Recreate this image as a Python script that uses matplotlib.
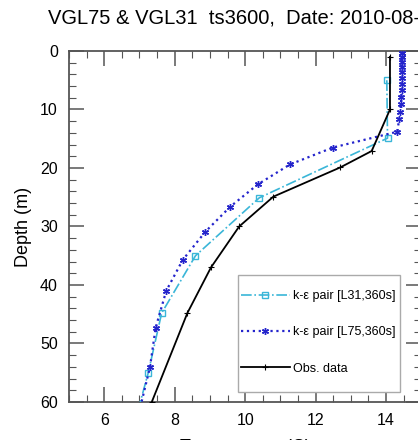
import matplotlib
matplotlib.use("Agg")
import matplotlib.pyplot as plt
from matplotlib.patches import Rectangle
from matplotlib.ticker import MultipleLocator

# observed profile
obs_temp = [14.11, 14.11, 13.59, 12.70, 10.80, 9.83, 9.03, 8.36, 7.35]
obs_depth = [1.0, 10.0, 17.1, 19.9, 24.9, 30.0, 37.0, 44.8, 60.0]

# k-eps pair, L31 levels
l31_temp = [14.02, 14.04, 10.40, 8.59, 7.63, 7.25, 6.80]
l31_depth = [5.0, 14.9, 25.1, 35.0, 44.8, 55.0, 65.0]

# k-eps pair, L75 levels
l75_temp = [14.44, 14.44, 14.44, 14.44, 14.44, 14.44, 14.44, 14.44, 14.43,
            14.42, 14.40, 14.37, 14.32, 12.49, 11.27, 10.36, 9.58, 8.87,
            8.23, 7.76, 7.46, 7.30, 7.00]
l75_depth = [0.3, 1.0, 1.8, 2.7, 3.6, 4.6, 5.6, 6.7, 7.9, 9.1, 10.4, 11.6,
             13.8, 16.5, 19.4, 22.8, 26.6, 30.9, 35.7, 41.0, 47.3, 54.0, 61.5]

title = "VGL75 & VGL31  ts3600,  Date: 2010-08-15"

plt.rcParams["font.family"] = ["Liberation Sans", "DejaVu Sans"]

fig = plt.figure(figsize=(4.18, 4.40), dpi=100)
ax = fig.add_axes([0.165, 0.0864, 0.843, 0.7977])

cyan = "#3ab6d8"
blue = "#2424cc"
ax.plot(l31_temp, l31_depth, color=cyan, ls="-.", lw=1.2,
        marker="s", markersize=5, markerfacecolor="none",
        markeredgecolor=cyan, markeredgewidth=1.0,
        label="k-\u03b5 pair [L31,360s]", zorder=3)
ax.plot(l75_temp, l75_depth, color=blue, ls=":", lw=1.6,
        marker=(6, 2, 0), markersize=5, markeredgewidth=1.0,
        label="k-\u03b5 pair [L75,360s]", zorder=3)
ax.plot(obs_temp, obs_depth, color="black", ls="-", lw=1.3,
        marker="+", markersize=4, markeredgewidth=0.8,
        label="Obs. data", zorder=4)

ax.set_xlim(5, 15)
ax.set_ylim(60, 0)
ax.xaxis.set_major_locator(MultipleLocator(2))
ax.xaxis.set_minor_locator(MultipleLocator(0.5))
ax.yaxis.set_major_locator(MultipleLocator(10))
ax.yaxis.set_minor_locator(MultipleLocator(2))
ax.set_xticks([6, 8, 10, 12, 14])
ax.tick_params(which="both", direction="in", top=True, right=True,
               color="#555555")
ax.tick_params(which="major", length=11, width=1.1, labelsize=11.5, pad=8)
ax.tick_params(which="minor", length=5, width=0.8)
for s in ax.spines.values():
    s.set_color("#555555")
    s.set_linewidth(1.3)

ax.set_ylabel("Depth (m)", fontsize=13, labelpad=6)
ax.set_xlabel("Temperature (C)", fontsize=13, labelpad=8)
fig.text(0.115, 0.958, title, fontsize=14.5, ha="left", va="center")

# legend box drawn separately so the entries can sit close to its left edge
ax.add_patch(Rectangle((0.479, 0.0285), 0.46, 0.333, transform=ax.transAxes,
                       facecolor="white", edgecolor="#aaaaaa", lw=1.0,
                       zorder=5))
leg = ax.legend(loc="upper left", bbox_to_anchor=(0.488, 0.319),
                fontsize=9, frameon=False, handlelength=3.9,
                handletextpad=0.25, labelspacing=1.95, borderpad=0,
                borderaxespad=0)
leg.set_zorder(6)

fig.savefig("out.png", dpi=100)
